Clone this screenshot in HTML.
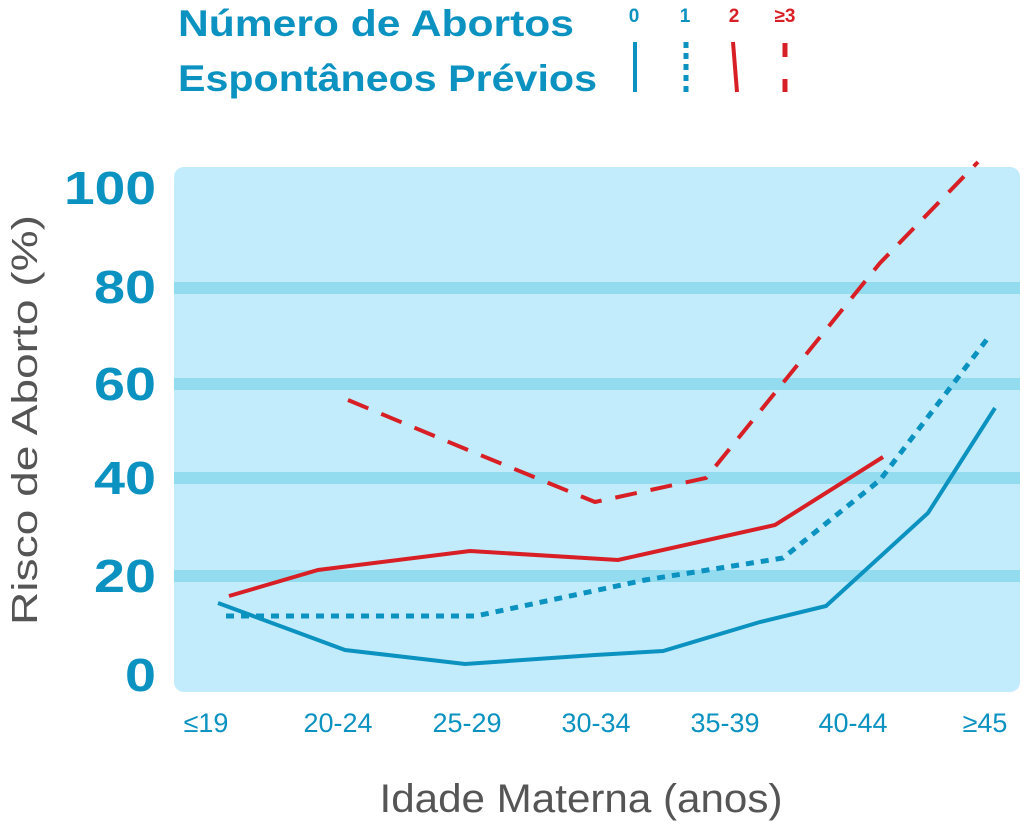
<!DOCTYPE html>
<html><head><meta charset="utf-8"><style>
body{margin:0;background:#fff;}
svg text{font-family:"Liberation Sans",sans-serif;}
</style></head><body>
<svg width="1024" height="834" xmlns="http://www.w3.org/2000/svg">
<text x="178" y="36" font-size="37" font-weight="bold" fill="#0b92c0" textLength="396" lengthAdjust="spacingAndGlyphs">Número de Abortos</text>
<text x="178" y="91" font-size="37" font-weight="bold" fill="#0b92c0" textLength="419" lengthAdjust="spacingAndGlyphs">Espontâneos Prévios</text>
<g font-size="19" font-weight="bold" text-anchor="middle">
<text x="634" y="22" fill="#0b92c0">0</text>
<text x="685" y="22" fill="#0b92c0">1</text>
<text x="734" y="22" fill="#d81f26">2</text>
<text x="785" y="22" fill="#d81f26">≥3</text>
</g>
<line x1="635" y1="42" x2="635" y2="92" stroke="#0b92c0" stroke-width="4"/>
<line x1="686" y1="42" x2="686" y2="92" stroke="#0b92c0" stroke-width="5" stroke-dasharray="6,5"/>
<line x1="733" y1="42" x2="737" y2="92" stroke="#d81f26" stroke-width="4"/>
<line x1="785" y1="43" x2="785" y2="92" stroke="#d81f26" stroke-width="5" stroke-dasharray="14,22"/>
<rect x="174" y="167" width="846" height="525" rx="10" fill="#c2ecfb"/>
<g fill="#93dcf0">
<rect x="174" y="282" width="846" height="12"/>
<rect x="174" y="378" width="846" height="12"/>
<rect x="174" y="472" width="846" height="12"/>
<rect x="174" y="570" width="846" height="12"/>
</g>
<g font-size="46" font-weight="bold" fill="#0b92c0" text-anchor="end">
<text x="156" y="204" textLength="92" lengthAdjust="spacingAndGlyphs">100</text>
<text x="156" y="303" textLength="62" lengthAdjust="spacingAndGlyphs">80</text>
<text x="156" y="400" textLength="62" lengthAdjust="spacingAndGlyphs">60</text>
<text x="156" y="494" textLength="62" lengthAdjust="spacingAndGlyphs">40</text>
<text x="156" y="592" textLength="62" lengthAdjust="spacingAndGlyphs">20</text>
<text x="156" y="691" textLength="31" lengthAdjust="spacingAndGlyphs">0</text>
</g>
<text transform="translate(37,420) rotate(-90)" font-size="36" fill="#555" text-anchor="middle" textLength="410" lengthAdjust="spacingAndGlyphs">Risco de Aborto (%)</text>
<g font-size="27" fill="#0b92c0" text-anchor="middle">
<text x="206" y="732">≤19</text>
<text x="338" y="732">20-24</text>
<text x="467" y="732">25-29</text>
<text x="596" y="732">30-34</text>
<text x="725" y="732">35-39</text>
<text x="853" y="732">40-44</text>
<text x="985" y="732">≥45</text>
</g>
<text x="581" y="812" font-size="40" fill="#555" text-anchor="middle" textLength="403" lengthAdjust="spacingAndGlyphs">Idade Materna (anos)</text>
<g fill="none" stroke-width="4">
<polyline stroke="#0b92c0" points="218,603 345,650 465,664 595,655 663,651 760,622 826,606 928,513 995,408"/>
<polyline stroke="#0b92c0" stroke-width="5" stroke-dasharray="8,7" points="226,616 476,616 645,580 783,558 880,480 988,338"/>
<polyline stroke="#d81f26" points="229,596 318,570 470,551 618,560 775,525 883,457"/>
<polyline stroke="#d81f26" stroke-dasharray="22,14" points="348,400 468,450 595,502 706,478 880,263 978,162"/>
</g>
</svg>
</body></html>
